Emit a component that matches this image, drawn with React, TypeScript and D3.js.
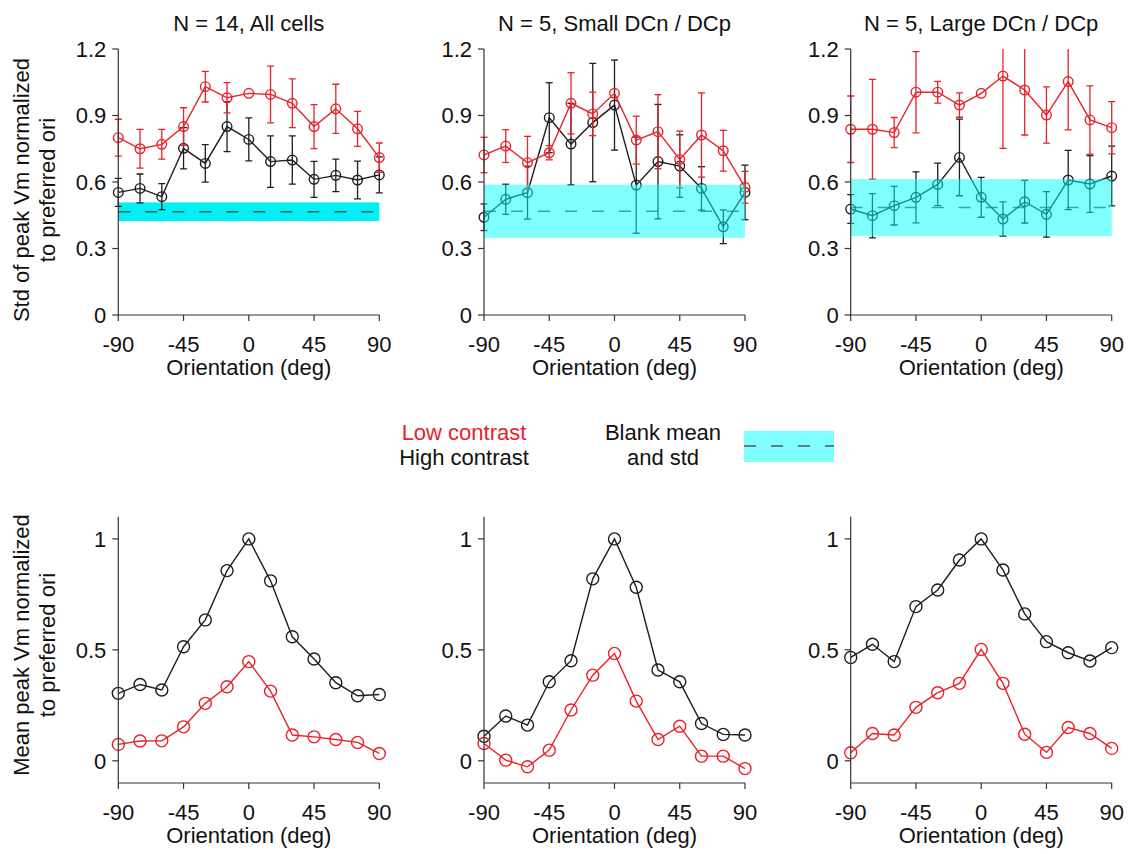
import React from "react";
import * as d3 from "d3";

// Stimulus orientations relative to preferred (deg)
const ORI = [-90, -75, -60, -45, -30, -15, 0, 15, 30, 45, 60, 75, 90];
const X_TICKS = [-90, -45, 0, 45, 90];
const STD_TICKS = [0, 0.3, 0.6, 0.9, 1.2];
const MEAN_TICKS = [0, 0.5, 1];

const TITLES = ["N = 14, All cells", "N = 5, Small DCn / DCp", "N = 5, Large DCn / DCp"];

// Std of peak Vm (normalized) — low contrast
const stdLowAll = [0.80, 0.75, 0.77, 0.85, 1.03, 0.98, 1.0, 0.995, 0.955, 0.85, 0.93, 0.84, 0.71];
const stdLowAllErr = [0.083, 0.087, 0.067, 0.085, 0.069, 0.068, 0, 0.128, 0.11, 0.099, 0.111, 0.079, 0.066];
const stdLowSmall = [0.722, 0.762, 0.687, 0.732, 0.955, 0.907, 1.0, 0.789, 0.827, 0.702, 0.812, 0.741, 0.576];
const stdLowSmallErr = [0.08, 0.074, 0.119, 0.032, 0.138, 0.098, 0, 0.108, 0.167, 0.128, 0.19, 0.092, 0.072];
const stdLowLarge = [0.838, 0.838, 0.823, 1.005, 1.005, 0.947, 1.0, 1.078, 1.015, 0.902, 1.053, 0.88, 0.845];
const stdLowLargeErr = [0.15, 0.225, 0.068, 0.183, 0.049, 0.055, 0, 0.326, 0.203, 0.127, 0.218, 0.154, 0.118];

// Std of peak Vm (normalized) — high contrast
const stdHighAll = [0.553, 0.571, 0.534, 0.752, 0.684, 0.85, 0.792, 0.692, 0.699, 0.612, 0.63, 0.609, 0.632];
const stdHighAllErr = [0.063, 0.065, 0.059, 0.093, 0.085, 0.113, 0.097, 0.116, 0.109, 0.081, 0.073, 0.085, 0.081];
const stdHighSmall = [0.441, 0.522, 0.552, 0.89, 0.771, 0.868, 0.947, 0.586, 0.692, 0.672, 0.571, 0.398, 0.553];
const stdHighSmallErr = [0.06, 0.068, 0.119, 0.158, 0.184, 0.267, 0.203, 0.217, 0.258, 0.141, 0.098, 0.076, 0.123];
const stdHighLarge = [0.478, 0.448, 0.493, 0.531, 0.589, 0.711, 0.531, 0.433, 0.511, 0.454, 0.609, 0.591, 0.627];
const stdHighLargeErr = [0.065, 0.1, 0.087, 0.115, 0.096, 0.173, 0.09, 0.077, 0.096, 0.103, 0.134, 0.128, 0.135];

// Blank (no stimulus) mean and std
const blankMean = [0.466, 0.468, 0.485];
const blankStd = [0.042, 0.12, 0.128];

// Mean peak Vm (normalized)
const meanHighAll = [0.304, 0.344, 0.319, 0.514, 0.635, 0.857, 1.0, 0.811, 0.559, 0.459, 0.352, 0.293, 0.299];
const meanLowAll = [0.074, 0.089, 0.09, 0.153, 0.259, 0.334, 0.447, 0.314, 0.116, 0.108, 0.096, 0.083, 0.033];
const meanHighSmall = [0.111, 0.202, 0.161, 0.356, 0.451, 0.82, 1.0, 0.782, 0.409, 0.356, 0.168, 0.119, 0.116];
const meanLowSmall = [0.078, 0.003, -0.027, 0.048, 0.229, 0.386, 0.484, 0.269, 0.096, 0.156, 0.021, 0.021, -0.035];
const meanHighLarge = [0.466, 0.525, 0.447, 0.695, 0.77, 0.905, 1.0, 0.86, 0.662, 0.537, 0.487, 0.45, 0.51];
const meanLowLarge = [0.036, 0.123, 0.116, 0.241, 0.307, 0.349, 0.502, 0.349, 0.12, 0.038, 0.15, 0.123, 0.056];

const STD_PANELS = [
  { low: stdLowAll, lowErr: stdLowAllErr, high: stdHighAll, highErr: stdHighAllErr },
  { low: stdLowSmall, lowErr: stdLowSmallErr, high: stdHighSmall, highErr: stdHighSmallErr },
  { low: stdLowLarge, lowErr: stdLowLargeErr, high: stdHighLarge, highErr: stdHighLargeErr },
];
const MEAN_PANELS = [
  { low: meanLowAll, high: meanHighAll },
  { low: meanLowSmall, high: meanHighSmall },
  { low: meanLowLarge, high: meanHighLarge },
];

const RED = "#e8222a";
const BLACK = "#1e1e1e";
const AXIS = "#333";
const CYAN = "#00ffff";
const FONT = "'Liberation Sans', Arial, Helvetica, sans-serif";
const FS = 22;

const COL_X = [118.3, 484, 850.7];
const PLOT_W = 261;
const TOP_Y0 = 315, TOP_Y1 = 49;
const BOT_Y0 = 783, BOT_Y1 = 516.7;

function Axes({ x, y, yTicks, fmt }: any) {
  const [x0, x1] = x.range();
  const [yb, yt] = y.range();
  return (
    <g>
      <line x1={x0} x2={x1} y1={yb} y2={yb} stroke={AXIS} strokeWidth={1.2} />
      <line x1={x0} x2={x0} y1={yb} y2={yt} stroke={AXIS} strokeWidth={1.2} />
      {X_TICKS.map((t) => (
        <g key={"x" + t}>
          <line x1={x(t)} x2={x(t)} y1={yb} y2={yb + 6} stroke={AXIS} strokeWidth={1.2} />
          <text x={x(t)} y={yb + 37} textAnchor="middle" fontSize={FS} fill="#111">{t}</text>
        </g>
      ))}
      {yTicks.map((t: number) => (
        <g key={"y" + t}>
          <line x1={x0 - 6} x2={x0} y1={y(t)} y2={y(t)} stroke={AXIS} strokeWidth={1.2} />
          <text x={x0 - 12} y={y(t)} dy="0.36em" textAnchor="end" fontSize={FS} fill="#111">{fmt(t)}</text>
        </g>
      ))}
      <text x={(x0 + x1) / 2} y={yb + 60} textAnchor="middle" fontSize={FS} fill="#111">Orientation (deg)</text>
    </g>
  );
}

function Series({ x, y, vals, err, color, r, fill, clipId }: any) {
  const line = d3.line<number>().x((_, i) => x(ORI[i])).y((v) => y(v));
  return (
    <g>
      {err && (
        <g clipPath={`url(#${clipId})`}>
          {vals.map((v: number, i: number) =>
            err[i] > 0 ? (
              <g key={i} stroke={color} strokeWidth={1.3}>
                <line x1={x(ORI[i])} x2={x(ORI[i])} y1={y(v - err[i])} y2={y(v + err[i])} />
                <line x1={x(ORI[i]) - 3.5} x2={x(ORI[i]) + 3.5} y1={y(v - err[i])} y2={y(v - err[i])} />
                <line x1={x(ORI[i]) - 3.5} x2={x(ORI[i]) + 3.5} y1={y(v + err[i])} y2={y(v + err[i])} />
              </g>
            ) : null
          )}
        </g>
      )}
      <path d={line(vals) || ""} fill="none" stroke={color} strokeWidth={1.4} />
      {vals.map((v: number, i: number) => (
        <circle key={i} cx={x(ORI[i])} cy={y(v)} r={r} fill={fill} stroke={color} strokeWidth={1.4} />
      ))}
    </g>
  );
}

export default function App() {
  return (
    <svg width={1128} height={854} style={{ position: "absolute", left: 0, top: 0, background: "#fff" }} fontFamily={FONT}>
      <rect width={1128} height={854} fill="#fff" />
      {COL_X.map((cx, p) => {
        const x = d3.scaleLinear().domain([-90, 90]).range([cx, cx + PLOT_W]);
        const yTop = d3.scaleLinear().domain([0, 1.2]).range([TOP_Y0, TOP_Y1]);
        const yBot = d3.scaleLinear().domain([-0.1, 1.1]).range([BOT_Y0, BOT_Y1]);
        const sp = STD_PANELS[p];
        const mp = MEAN_PANELS[p];
        const clipId = "clip" + p;
        const bandTop = yTop(blankMean[p] + blankStd[p]);
        const bandBot = yTop(blankMean[p] - blankStd[p]);
        const overlay = p > 0;
        return (
          <g key={p}>
            <defs>
              <clipPath id={clipId}>
                <rect x={cx - 20} y={TOP_Y1} width={PLOT_W + 40} height={TOP_Y0 - TOP_Y1} />
              </clipPath>
            </defs>
            <text x={cx + PLOT_W / 2} y={31} textAnchor="middle" fontSize={FS} fill="#111">{TITLES[p]}</text>
            {!overlay && (
              <rect x={x(-90)} y={bandTop} width={x(90) - x(-90)} height={bandBot - bandTop} fill="#00f0f5" />
            )}
            <line x1={x(-90)} x2={x(90)} y1={yTop(blankMean[p])} y2={yTop(blankMean[p])} stroke="#555" strokeWidth={1.5} strokeDasharray="12,15" />
            <Series x={x} y={yTop} vals={sp.high} err={sp.highErr} color={BLACK} r={4.8} fill="none" clipId={clipId} />
            <Series x={x} y={yTop} vals={sp.low} err={sp.lowErr} color={RED} r={4.8} fill="none" clipId={clipId} />
            {overlay && (
              <rect x={x(-90)} y={bandTop} width={x(90) - x(-90)} height={bandBot - bandTop} fill={CYAN} opacity={0.5} />
            )}
            <Axes x={x} y={yTop} yTicks={STD_TICKS} fmt={(t: number) => (t === 0 ? "0" : t.toFixed(1))} />

            <Series x={x} y={yBot} vals={mp.high} color={BLACK} r={6} fill="none" />
            <Series x={x} y={yBot} vals={mp.low} color={RED} r={6} fill="none" />
            <Axes x={x} y={yBot} yTicks={MEAN_TICKS} fmt={(t: number) => String(t)} />
          </g>
        );
      })}

      {/* y-axis titles */}
      <g fontSize={FS} fill="#111" textAnchor="middle">
        <text transform="translate(29,190) rotate(-90)">Std of peak Vm normalized</text>
        <text transform="translate(55,190) rotate(-90)">to preferred ori</text>
        <text transform="translate(29,645) rotate(-90)">Mean peak Vm normalized</text>
        <text transform="translate(55,645) rotate(-90)">to preferred ori</text>
      </g>

      {/* legend */}
      <g fontSize={FS} textAnchor="middle">
        <text x={464} y={440} fill={RED}>Low contrast</text>
        <text x={464} y={465} fill="#111">High contrast</text>
        <text x={663} y={440} fill="#111">Blank mean</text>
        <text x={663} y={465} fill="#111">and std</text>
      </g>
      <rect x={744} y={431} width={90} height={31} fill={CYAN} opacity={0.5} />
      <line x1={744} x2={834} y1={446} y2={446} stroke="#555" strokeWidth={1.5} strokeDasharray="12,15" />
    </svg>
  );
}
